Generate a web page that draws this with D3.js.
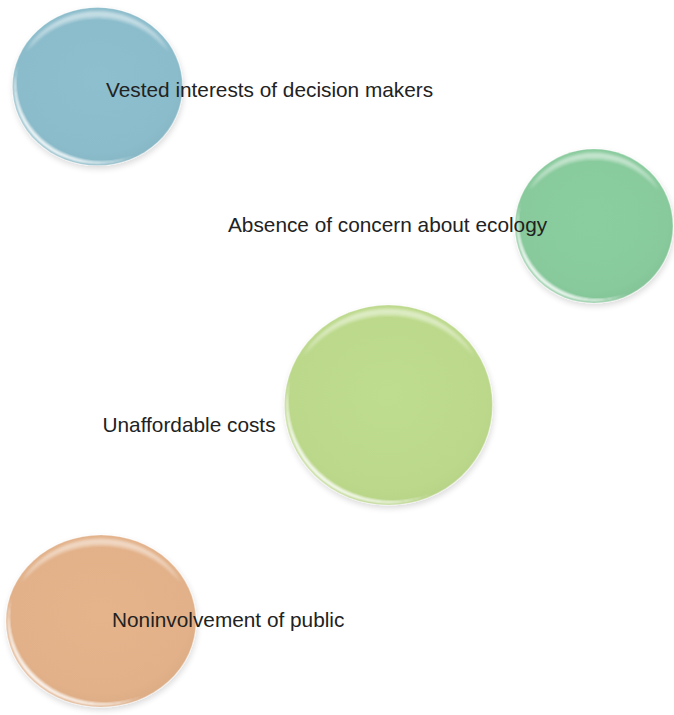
<!DOCTYPE html>
<html>
<head>
<meta charset="utf-8">
<script src="https://cdn.jsdelivr.net/npm/d3@7"></script>
<style>
  html, body { margin: 0; padding: 0; background: #ffffff; }
  svg { display: block; }
</style>
</head>
<body>
<div id="chart"></div>
<script>
// ---- data ----
const labels = [
  "Vested interests of decision makers",
  "Absence of concern about ecology",
  "Unaffordable costs",
  "Noninvolvement of public"
];
const bubbleColors = ["#8bbccb", "#88ca9c", "#bcd98b", "#e2b189"];

// ---- layout (kept separate from data) ----
const W = 674, H = 715;
const layout = [
  { cx: 97.5, cy: 86.5, rx: 85, ry: 79, tx: 106, ty: 96.5 },
  { cx: 594, cy: 226, rx: 79, ry: 77, tx: 228, ty: 231.5 },
  { cx: 388.5, cy: 405, rx: 104, ry: 100, tx: 102.5, ty: 431.5 },
  { cx: 101, cy: 621, rx: 95, ry: 86, tx: 112, ty: 626.5 }
];

const items = labels.map((l, i) => Object.assign({ label: l, color: bubbleColors[i] }, layout[i]));

const svg = d3.select("#chart").append("svg")
  .attr("width", W).attr("height", H)
  .attr("viewBox", `0 0 ${W} ${H}`);

const defs = svg.append("defs");

const shadow = defs.append("filter").attr("id", "shadow")
  .attr("x", "-20%").attr("y", "-20%").attr("width", "140%").attr("height", "140%");
shadow.append("feGaussianBlur").attr("in", "SourceAlpha").attr("stdDeviation", 3).attr("result", "b");
shadow.append("feOffset").attr("in", "b").attr("dx", 1).attr("dy", 3).attr("result", "o");
shadow.append("feComponentTransfer").attr("in", "o").attr("result", "s")
  .append("feFuncA").attr("type", "linear").attr("slope", 0.15);
const m = shadow.append("feMerge");
m.append("feMergeNode").attr("in", "s");
m.append("feMergeNode").attr("in", "SourceGraphic");

defs.append("filter").attr("id", "blurTop")
  .attr("x", "-20%").attr("y", "-20%").attr("width", "140%").attr("height", "140%")
  .append("feGaussianBlur").attr("stdDeviation", 1.5);
defs.append("filter").attr("id", "blurRim")
  .attr("x", "-20%").attr("y", "-20%").attr("width", "140%").attr("height", "140%")
  .append("feGaussianBlur").attr("stdDeviation", 0.8);

items.forEach((d, i) => {
  const g = defs.append("radialGradient").attr("id", "grad" + i)
    .attr("cx", "50%").attr("cy", "45%").attr("r", "55%");
  const c = d3.color(d.color);
  g.append("stop").attr("offset", "0%").attr("stop-color", c.brighter(0.05));
  g.append("stop").attr("offset", "85%").attr("stop-color", c);
  g.append("stop").attr("offset", "100%").attr("stop-color", c.darker(0.08));

  // top crescent highlight
  const mt = defs.append("mask").attr("id", "maskTop" + i)
    .attr("maskUnits", "userSpaceOnUse")
    .attr("x", -d.rx - 10).attr("y", -d.ry - 10)
    .attr("width", 2 * d.rx + 20).attr("height", 2 * d.ry + 20);
  const gt = mt.append("g").attr("filter", "url(#blurTop)");
  gt.append("ellipse").attr("rx", d.rx - 4).attr("ry", d.ry - 3.5).attr("fill", "#fff");
  gt.append("ellipse").attr("cy", 9).attr("rx", d.rx + 2).attr("ry", d.ry).attr("fill", "#000");

  // lower-left rim highlight
  const mr = defs.append("mask").attr("id", "maskRim" + i)
    .attr("maskUnits", "userSpaceOnUse")
    .attr("x", -d.rx - 10).attr("y", -d.ry - 10)
    .attr("width", 2 * d.rx + 20).attr("height", 2 * d.ry + 20);
  const gr = mr.append("g").attr("filter", "url(#blurRim)");
  gr.append("ellipse").attr("rx", d.rx - 1.5).attr("ry", d.ry - 1.5).attr("fill", "#fff");
  gr.append("ellipse").attr("cx", 4).attr("cy", -4.5).attr("rx", d.rx + 1.5).attr("ry", d.ry + 1.5).attr("fill", "#000");
});

const bubbles = svg.append("g").selectAll("g.bubble")
  .data(items).join("g")
  .attr("class", "bubble")
  .attr("transform", d => `translate(${d.cx},${d.cy})`);

bubbles.append("ellipse")
  .attr("rx", d => d.rx).attr("ry", d => d.ry)
  .attr("fill", (d, i) => `url(#grad${i})`)
  .attr("stroke", "#ffffff").attr("stroke-opacity", 0.3).attr("stroke-width", 1.2)
  .attr("filter", "url(#shadow)");

bubbles.append("rect")
  .attr("x", d => -d.rx).attr("y", d => -d.ry)
  .attr("width", d => 2 * d.rx).attr("height", d => 2 * d.ry)
  .attr("fill", "#ffffff").attr("fill-opacity", 0.5)
  .attr("mask", (d, i) => `url(#maskTop${i})`);

bubbles.append("rect")
  .attr("x", d => -d.rx).attr("y", d => -d.ry)
  .attr("width", d => 2 * d.rx).attr("height", d => 2 * d.ry)
  .attr("fill", "#ffffff").attr("fill-opacity", 0.9)
  .attr("mask", (d, i) => `url(#maskRim${i})`);

svg.append("g").selectAll("text")
  .data(items).join("text")
  .attr("x", d => d.tx).attr("y", d => d.ty)
  .attr("font-family", "'Liberation Sans', Arial, Helvetica, sans-serif")
  .attr("font-size", 20.8)
  .attr("fill", "#222222")
  .text(d => d.label);
</script>
</body>
</html>
